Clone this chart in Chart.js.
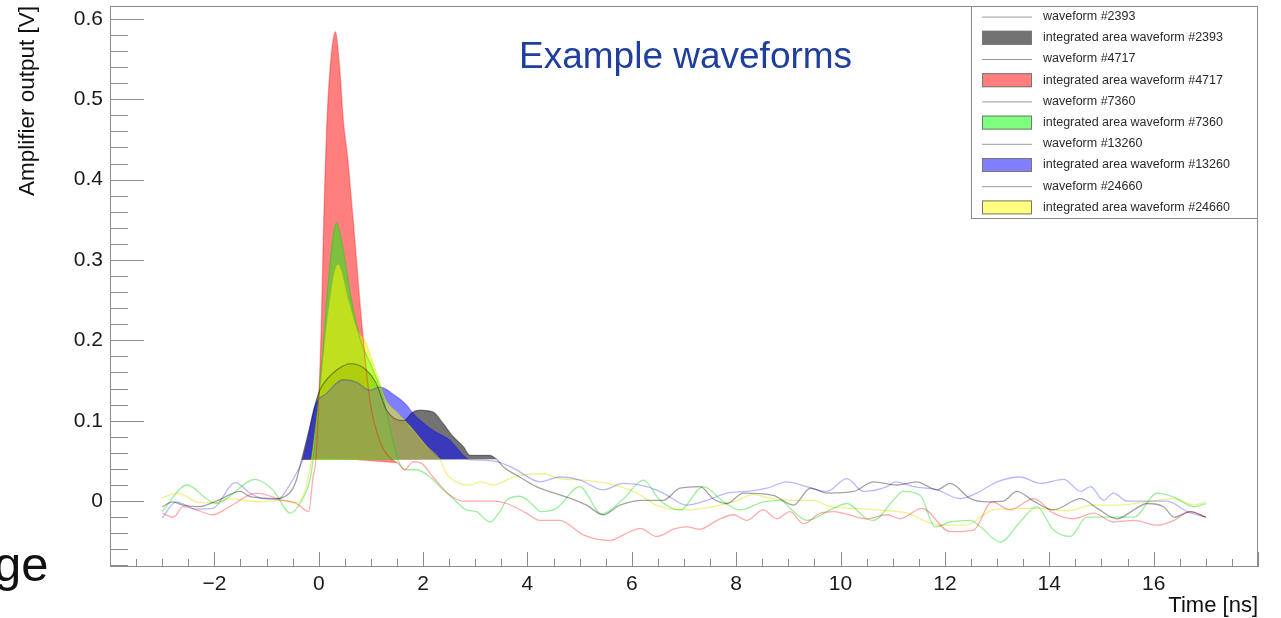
<!DOCTYPE html>
<html>
<head>
    <title>Example waveforms</title>
    <meta charset="utf-8" />
    <script src="https://cdn.jsdelivr.net/npm/chart.js@4.4.0/dist/chart.umd.min.js"></script>
    <style>
        html, body {
            margin: 0;
            padding: 0;
            background: #fff;
        }
        #wrap {
            position: relative;
            width: 1281px;
            height: 618px;
            overflow: hidden;
        }
        #plot {
            position: absolute;
            left: 0;
            top: 0;
        }
        #headline {
            position: absolute;
            left: 519px;
            top: 37px;
            font-family: "Liberation Sans", Arial, sans-serif;
            font-size: 37px;
            line-height: 1;
            color: #1f3f9f;
            white-space: nowrap;
        }
        #slideText {
            position: absolute;
            left: -6px;
            top: 540px;
            font-family: "Liberation Sans", Arial, sans-serif;
            font-size: 49px;
            line-height: 1;
            color: #111;
            white-space: nowrap;
        }
    </style>
</head>
<body>
<div id="wrap">
    <canvas id="plot" width="1281" height="618"></canvas>
    <div id="headline">Example waveforms</div>
    <div id="slideText">ge</div>
</div>
<script>
    // Waveform samples: [time (ns), amplifier output (V)]
    const wf2393 = [[-3.0,-0.007],[-2.8,-0.001],[-2.6,-0.005],[-2.3,-0.007],[-1.96,0.0],[-1.5,0.012],[-1.33,0.006],[-1.14,0.004],[-0.81,0.003],[-0.56,0.01],[-0.45,0.022],[-0.33,0.051],[-0.2,0.085],[-0.05,0.125],[0.02,0.138],[0.27,0.159],[0.63,0.171],[0.91,0.163],[1.1,0.147],[1.3,0.113],[1.62,0.1],[1.81,0.111],[1.94,0.113],[2.19,0.111],[2.38,0.097],[2.58,0.08],[2.77,0.068],[2.9,0.057],[3.09,0.057],[3.28,0.057],[3.41,0.052],[3.53,0.043],[3.85,0.03],[4.17,0.018],[4.75,0.005],[5.13,-0.005],[5.45,-0.017],[5.77,-0.005],[6.22,0.001],[6.6,0.001],[6.92,0.016],[7.31,0.018],[7.56,0.003],[7.82,-0.003],[8.14,0.01],[8.71,0.007],[9.1,-0.005],[9.42,0.016],[9.74,0.01],[10.25,0.012],[10.63,0.024],[11.08,0.02],[11.46,0.024],[11.85,0.014],[12.1,0.022],[12.49,0.003],[12.81,-0.001],[13.12,0.0],[13.38,0.012],[13.7,0.0],[14.08,-0.011],[14.6,0.003],[14.92,-0.009],[15.3,-0.022],[15.62,-0.011],[15.87,-0.003],[16.19,-0.007],[16.39,-0.02],[16.7,-0.013],[17.0,-0.02]];
    const wf4717 = [[-3.0,-0.015],[-2.78,-0.02],[-2.6,-0.007],[-2.35,-0.011],[-2.03,-0.017],[-1.71,-0.007],[-1.2,0.01],[-0.68,0.001],[-0.43,-0.003],[-0.19,-0.013],[-0.11,0.03],[-0.05,0.055],[0.05,0.22],[0.1,0.36],[0.15,0.46],[0.22,0.54],[0.32,0.584],[0.4,0.54],[0.47,0.474],[0.55,0.43],[0.66,0.35],[0.82,0.225],[0.98,0.125],[1.2,0.07],[1.35,0.055],[1.52,0.047],[1.65,0.039],[1.81,0.049],[1.97,0.047],[2.19,0.03],[2.51,0.0075],[2.77,0.0],[3.09,0.0],[3.34,0.0],[3.6,-0.003],[3.98,-0.015],[4.24,-0.024],[4.62,-0.024],[5.07,-0.042],[5.58,-0.049],[5.9,-0.04],[6.16,-0.034],[6.48,-0.044],[6.8,-0.035],[7.05,-0.032],[7.31,-0.035],[7.63,-0.024],[7.95,-0.017],[8.2,-0.024],[8.52,-0.011],[8.78,-0.022],[9.03,-0.013],[9.29,-0.028],[9.61,-0.015],[9.86,-0.013],[10.5,-0.022],[10.89,-0.017],[11.14,-0.022],[11.56,-0.009],[12.1,-0.038],[12.55,-0.036],[12.9,-0.001],[13.25,-0.011],[13.7,0.003],[14.08,-0.015],[14.47,-0.022],[14.85,-0.015],[15.23,-0.026],[15.62,-0.024],[16.07,-0.03],[16.39,-0.024],[16.7,-0.013],[17.0,-0.02]];
    const wf7360 = [[-3.0,-0.013],[-2.52,0.02],[-2.15,0.003],[-1.96,-0.003],[-1.75,0.004],[-1.22,0.027],[-0.88,0.014],[-0.54,-0.015],[-0.36,-0.003],[-0.17,0.026],[-0.11,0.051],[0.0,0.13],[0.08,0.188],[0.18,0.271],[0.34,0.346],[0.47,0.313],[0.6,0.26],[0.8,0.2],[1.0,0.17],[1.23,0.13],[1.4,0.08],[1.52,0.051],[1.68,0.039],[1.87,0.039],[2.13,0.03],[2.32,0.018],[2.58,0.003],[2.83,-0.011],[3.02,-0.013],[3.28,-0.026],[3.47,-0.013],[3.6,0.001],[3.85,0.006],[4.11,-0.005],[4.24,-0.013],[4.56,-0.009],[5.0,0.018],[5.42,-0.016],[5.84,0.003],[6.22,0.026],[6.54,0.001],[6.92,-0.011],[7.37,0.018],[7.76,-0.001],[8.07,-0.011],[8.52,-0.001],[8.84,0.001],[9.1,-0.013],[9.35,-0.024],[9.86,-0.009],[10.12,-0.003],[10.5,-0.022],[10.63,-0.024],[11.01,0.001],[11.2,0.012],[11.53,0.007],[11.81,-0.032],[12.1,-0.026],[12.49,-0.024],[12.68,-0.032],[13.06,-0.051],[13.44,-0.026],[13.76,-0.007],[14.08,-0.036],[14.4,-0.044],[14.72,-0.02],[15.23,-0.02],[15.62,-0.02],[16.07,0.01],[16.39,0.005],[16.77,-0.007],[17.0,-0.003]];
    const wf13260 = [[-3.0,-0.021],[-2.73,-0.001],[-2.35,-0.01],[-2.03,-0.009],[-1.6,0.023],[-1.32,0.01],[-1.07,0.003],[-0.78,0.002],[-0.56,0.02],[-0.36,0.043],[-0.3,0.052],[-0.2,0.08],[-0.08,0.117],[0.15,0.134],[0.47,0.151],[0.72,0.148],[0.98,0.138],[1.17,0.142],[1.49,0.13],[1.68,0.12],[1.81,0.109],[2.19,0.088],[2.51,0.076],[2.77,0.057],[2.86,0.052],[3.1,0.051],[3.41,0.049],[3.73,0.041],[4.24,0.024],[4.62,0.03],[5.01,0.026],[5.45,0.014],[5.84,0.022],[6.29,0.018],[6.6,0.01],[7.05,-0.005],[7.44,0.001],[7.82,0.01],[8.2,0.012],[8.59,0.016],[8.97,0.024],[9.35,0.018],[9.74,0.012],[10.12,0.028],[10.44,0.012],[10.89,0.018],[11.05,0.024],[11.4,0.018],[11.85,0.014],[12.29,0.003],[12.61,0.01],[13.0,0.024],[13.44,0.03],[13.83,0.022],[14.28,0.027],[14.6,0.012],[14.79,0.018],[15.04,0.001],[15.23,0.01],[15.49,0.0],[15.87,0.0],[16.26,0.0],[16.64,-0.013],[17.0,-0.02]];
    const wf24660 = [[-3.0,0.004],[-2.7,0.01],[-2.28,-0.002],[-1.96,-0.002],[-1.71,0.003],[-1.32,0.0],[-1.1,-0.001],[-0.68,0.001],[-0.4,-0.002],[-0.24,0.018],[-0.14,0.051],[0.05,0.15],[0.18,0.23],[0.37,0.294],[0.56,0.25],[0.75,0.21],[0.88,0.2],[1.0,0.18],[1.13,0.155],[1.27,0.127],[1.5,0.11],[1.75,0.093],[2.07,0.068],[2.32,0.052],[2.45,0.034],[2.7,0.022],[2.9,0.02],[3.09,0.024],[3.34,0.02],[3.47,0.022],[3.73,0.03],[4.3,0.034],[4.62,0.028],[5.07,0.026],[5.52,0.022],[6.03,0.012],[6.54,-0.007],[7.05,-0.011],[7.56,-0.007],[7.95,-0.001],[8.33,0.008],[8.71,0.003],[9.1,0.001],[9.48,0.001],[9.8,-0.007],[10.25,-0.009],[10.7,-0.011],[11.27,-0.015],[11.91,-0.03],[12.42,-0.03],[12.68,-0.02],[12.93,-0.011],[13.44,-0.009],[13.83,-0.009],[14.34,-0.012],[14.85,-0.005],[15.36,-0.005],[15.87,-0.001],[16.39,0.003],[16.77,-0.005],[17.0,-0.001]];

    const waveformIds = ['2393', '4717', '7360', '13260', '24660'];
    const waveformData = [wf2393, wf4717, wf7360, wf13260, wf24660];
    // integration window of each waveform (ns)
    const areaStart = [-0.33, -0.05, -0.11, -0.30, -0.14];
    const areaEnd = [3.41, 1.52, 1.52, 2.86, 2.32];

    const xTickValues = [-2, 0, 2, 4, 6, 8, 10, 12, 14, 16];
    const xTickLabels = ['\u22122', '0', '2', '4', '6', '8', '10', '12', '14', '16'];
    const yTickValues = [0, 0.1, 0.2, 0.3, 0.4, 0.5, 0.6];
    const yTickLabels = ['0', '0.1', '0.2', '0.3', '0.4', '0.5', '0.6'];

    const lineColors = ['rgba(0,0,0,0.36)', 'rgba(255,0,0,0.33)', 'rgba(0,210,0,0.38)', 'rgba(0,0,255,0.28)', 'rgba(225,225,0,0.45)'];
    const areaColors = ['rgba(0,0,0,0.55)', 'rgba(255,0,0,0.5)', 'rgba(0,255,0,0.5)', 'rgba(0,0,255,0.5)', 'rgba(255,255,0,0.5)'];

    Chart.defaults.font.family = '"Liberation Sans", Arial, Helvetica, sans-serif';

    const datasets = [];
    waveformIds.forEach((id, i) => {
        const pts = waveformData[i].map(([t, v]) => ({ x: t, y: v }));
        datasets.push({
            label: 'waveform #' + id,
            data: pts,
            showLine: true,
            borderColor: lineColors[i],
            borderWidth: 1.3,
            pointRadius: 0,
            fill: false,
            cubicInterpolationMode: 'monotone',
            order: 0
        });
        // area closed by the chord between the first and last sample of the window
        datasets.push({
            label: 'integrated area waveform #' + id,
            data: pts.filter(p => p.x >= areaStart[i] - 1e-9 && p.x <= areaEnd[i] + 1e-9),
            showLine: true,
            borderWidth: 0,
            borderColor: 'transparent',
            backgroundColor: areaColors[i],
            pointRadius: 0,
            fill: 'shape',
            cubicInterpolationMode: 'monotone',
            order: 5 - i
        });
    });

    // ROOT-like legend box in the top right corner of the frame
    const boxLegend = {
        id: 'boxLegend',
        afterDraw(chart) {
            const { ctx, chartArea } = chart;
            const right = chartArea.right, top = chartArea.top;
            const left = right - 287, bottom = top + 212;
            const rowH = (bottom - top) / chart.data.datasets.length;
            ctx.save();
            ctx.fillStyle = '#fff';
            ctx.fillRect(left, top, right - left, bottom - top);
            ctx.strokeStyle = '#8a8a8a';
            ctx.lineWidth = 1;
            ctx.strokeRect(left + 0.5, top + 0.5, right - left - 1, bottom - top);
            ctx.font = '12.5px "Liberation Sans", Arial, sans-serif';
            ctx.textBaseline = 'middle';
            chart.data.datasets.forEach((ds, k) => {
                const cy = top + rowH * (k + 0.5);
                if (ds.fill) {
                    ctx.fillStyle = ds.backgroundColor;
                    ctx.fillRect(left + 11, cy - 7, 50, 14);
                    ctx.strokeStyle = '#777';
                    ctx.strokeRect(left + 11.5, cy - 6.5, 49, 13);
                } else {
                    ctx.strokeStyle = '#9a9a9a';
                    ctx.beginPath();
                    ctx.moveTo(left + 11, cy + 0.5);
                    ctx.lineTo(left + 61, cy + 0.5);
                    ctx.stroke();
                }
                ctx.fillStyle = '#2a2a2a';
                ctx.fillText(ds.label, left + 72, cy);
            });
            ctx.restore();
        }
    };

    // frame with inward major/minor ticks
    const rootFrame = {
        id: 'rootFrame',
        afterDraw(chart) {
            const { ctx, chartArea: a, scales: { x, y } } = chart;
            ctx.save();
            ctx.strokeStyle = '#8c8c8c';
            ctx.lineWidth = 1;
            ctx.strokeRect(a.left + 0.5, a.top + 0.5, a.width - 1, a.height - 1);
            ctx.beginPath();
            for (let k = 0; ; k++) {
                const t = x.min + k * 0.5;
                if (t > x.max + 1e-9) break;
                const px = Math.round(x.getPixelForValue(t)) + 0.5;
                const len = (Math.abs(t % 2) < 1e-9) ? 15 : 8;
                ctx.moveTo(px, a.bottom);
                ctx.lineTo(px, a.bottom - len);
            }
            for (let k = Math.ceil(y.min / 0.02 - 1e-9); k * 0.02 <= y.max + 1e-9; k++) {
                const py = Math.round(y.getPixelForValue(k * 0.02)) + 0.5;
                const len = (k % 5 === 0) ? 34 : 18;
                ctx.moveTo(a.left, py);
                ctx.lineTo(a.left + len, py);
            }
            ctx.stroke();
            ctx.restore();
        }
    };

    new Chart(document.getElementById('plot'), {
        type: 'scatter',
        data: { datasets },
        options: {
            responsive: false,
            animation: false,
            events: [],
            layout: { padding: { left: 0, right: 23, top: 6, bottom: 0 } },
            plugins: {
                legend: { display: false },
                tooltip: { enabled: false }
            },
            scales: {
                x: {
                    type: 'linear',
                    min: -4,
                    max: 18,
                    afterFit: s => { s.height = 51; s.paddingLeft = 0; s.paddingRight = 0; },
                    afterBuildTicks: s => { s.ticks = xTickValues.map(v => ({ value: v })); },
                    grid: { display: false, drawTicks: false },
                    border: { display: false },
                    ticks: {
                        autoSkip: false,
                        maxRotation: 0,
                        padding: 5,
                        color: '#1a1a1a',
                        font: { size: 21 },
                        callback: (v, i) => xTickLabels[i]
                    },
                    title: {
                        display: true,
                        text: 'Time [ns]',
                        align: 'end',
                        color: '#111',
                        font: { size: 22 },
                        padding: { top: 0, bottom: -1 }
                    }
                },
                y: {
                    type: 'linear',
                    min: -0.082,
                    max: 0.616,
                    afterFit: s => { s.width = 110; s.paddingTop = 0; s.paddingBottom = 0; },
                    afterBuildTicks: s => { s.ticks = yTickValues.map(v => ({ value: v })); },
                    grid: { display: false, drawTicks: false },
                    border: { display: false },
                    ticks: {
                        padding: 7,
                        color: '#1a1a1a',
                        font: { size: 21 },
                        callback: (v, i) => yTickLabels[i]
                    },
                    title: {
                        display: true,
                        text: 'Amplifier output [V]',
                        align: 'end',
                        color: '#111',
                        font: { size: 22.5 },
                        padding: { top: 14, bottom: 0 }
                    }
                }
            }
        },
        plugins: [boxLegend, rootFrame]
    });
</script>
</body>
</html>
